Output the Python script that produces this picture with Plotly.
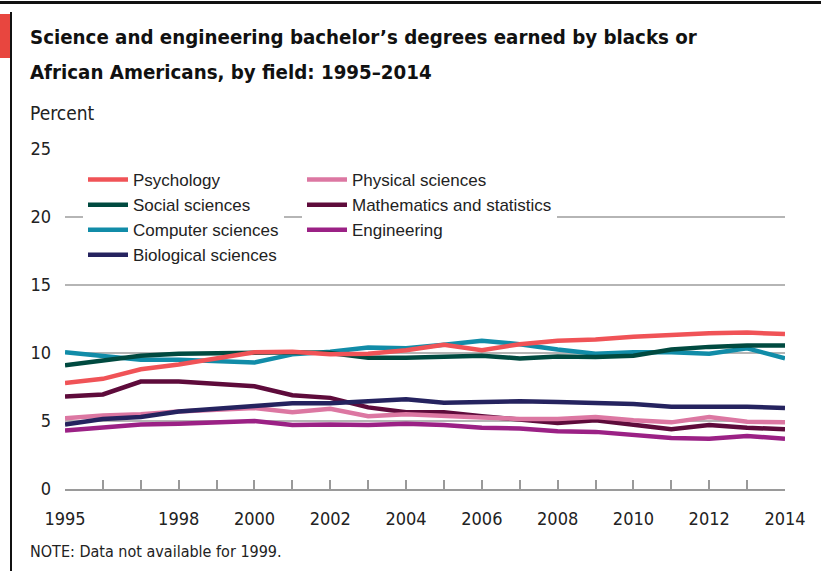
import plotly.graph_objects as go

years = [1995, 1996, 1997, 1998, 2000, 2001, 2002, 2003, 2004, 2005,
         2006, 2007, 2008, 2009, 2010, 2011, 2012, 2013, 2014]

psychology = [7.8, 8.1, 8.8, 9.15, 10.05, 10.1, 9.9, 9.95, 10.2, 10.6,
              10.2, 10.65, 10.9, 11.0, 11.2, 11.35, 11.45, 11.5, 11.4]
social = [9.1, 9.45, 9.8, 9.95, 10.05, 10.05, 10.0, 9.65, 9.65, 9.75,
          9.8, 9.6, 9.75, 9.7, 9.8, 10.25, 10.45, 10.55, 10.55]
computer = [10.05, 9.8, 9.5, 9.5, 9.3, 9.9, 10.1, 10.4, 10.35, 10.6,
            10.9, 10.65, 10.25, 9.95, 10.05, 10.05, 9.95, 10.35, 9.6]
biological = [4.75, 5.15, 5.3, 5.7, 6.1, 6.3, 6.3, 6.45, 6.6, 6.35,
              6.4, 6.45, 6.4, 6.35, 6.25, 6.05, 6.05, 6.05, 5.95]
physical = [5.2, 5.4, 5.5, 5.7, 5.95, 5.65, 5.9, 5.35, 5.5, 5.35,
            5.25, 5.15, 5.15, 5.3, 5.05, 4.9, 5.3, 4.95, 4.9]
mathematics = [6.8, 6.95, 7.9, 7.9, 7.55, 6.9, 6.7, 6.0, 5.65, 5.65,
               5.35, 5.1, 4.85, 5.05, 4.75, 4.4, 4.7, 4.5, 4.4]
engineering = [4.3, 4.55, 4.75, 4.8, 5.0, 4.7, 4.75, 4.7, 4.8, 4.7,
               4.5, 4.45, 4.25, 4.2, 3.95, 3.75, 3.7, 3.9, 3.7]

tick_years = list(range(1995, 2015))
labeled_years = [1995, 1998, 2000, 2002, 2004, 2006, 2008, 2010, 2012, 2014]
y_ticks = [0, 5, 10, 15, 20, 25]

title_lines = ["Science and engineering bachelor\u2019s degrees earned by blacks or",
               "African Americans, by field: 1995\u20132014"]
y_label = "Percent"
note = "NOTE: Data not available for 1999."

W, H = 821, 571
L, R, T, B = 65, 785, 149, 489


def px(x):
    return (x - L) / (R - L)


def py(y):
    return (B - y) / (B - T)


NARROW = "DejaVu Sans Condensed, sans-serif"
REG = "Liberation Sans, Arial, sans-serif"

series = [
    ("Engineering", engineering, "#9b2185", "legend2", 3),
    ("Mathematics and statistics", mathematics, "#5e0b3b", "legend2", 2),
    ("Physical sciences", physical, "#dc77a2", "legend2", 1),
    ("Biological sciences", biological, "#25235f", "legend", 4),
    ("Computer sciences", computer, "#118ca8", "legend", 3),
    ("Social sciences", social, "#004a40", "legend", 2),
    ("Psychology", psychology, "#f05357", "legend", 1),
]

fig = go.Figure()
for name, vals, color, leg, rank in series:
    fig.add_trace(go.Scatter(
        x=years, y=vals, name=name, mode="lines",
        line=dict(color=color, width=4.5),
        legend=leg, legendrank=rank,
    ))

fig.update_layout(
    width=W, height=H,
    margin=dict(l=L, r=W - R, t=T, b=H - B, pad=0),
    paper_bgcolor="white", plot_bgcolor="white",
    font=dict(family=REG, color="#222"),
    showlegend=True,
    xaxis=dict(
        range=[1995, 2014], tickvals=tick_years,
        ticktext=[str(y) if y in labeled_years else "" for y in tick_years],
        ticks="inside", ticklen=9, tickwidth=1.5, tickcolor="#9a9a9a",
        showline=True, linecolor="#9a9a9a", linewidth=2,
        showgrid=False, zeroline=False,
        tickfont=dict(family=NARROW, size=18, color="#222"),
        ticklabelstandoff=12,
    ),
    yaxis=dict(
        range=[0, 25], tickvals=y_ticks,
        showgrid=True, gridcolor="#b5b5b5", gridwidth=1.5,
        zeroline=False, showline=False, ticks="",
        tickfont=dict(family=NARROW, size=18, color="#222"),
        ticklabelstandoff=13,
    ),
    legend=dict(
        x=px(83), y=py(162), xanchor="left", yanchor="top",
        bgcolor="white", font=dict(family=REG, size=17, color="#222"),
        tracegroupgap=0, itemwidth=40, traceorder="normal",
    ),
    legend2=dict(
        x=px(302), y=py(162), xanchor="left", yanchor="top",
        bgcolor="white", font=dict(family=REG, size=17, color="#222"),
        tracegroupgap=0, itemwidth=40, traceorder="normal",
    ),
)

annotations = [
    dict(text="<b>" + title_lines[0] + "</b>", x=px(28), y=py(37)),
    dict(text="<b>" + title_lines[1] + "</b>", x=px(28), y=py(72)),
]
for a in annotations:
    a.update(xref="paper", yref="paper", xanchor="left", yanchor="middle",
             showarrow=False, font=dict(family=NARROW, size=20.3, color="#111"))
    fig.add_annotation(**a)

fig.add_annotation(text=y_label, x=px(28), y=py(113), xref="paper", yref="paper",
                   xanchor="left", yanchor="middle", showarrow=False,
                   font=dict(family=NARROW, size=19, color="#222"))
fig.add_annotation(text=note, x=px(28), y=py(551), xref="paper", yref="paper",
                   xanchor="left", yanchor="middle", showarrow=False,
                   font=dict(family=NARROW, size=16, color="#222"))

# frame decorations
fig.add_shape(type="line", xref="paper", yref="paper", x0=px(0), x1=px(821),
              y0=py(2.5), y1=py(2.5), line=dict(color="#111", width=3))
fig.add_shape(type="line", xref="paper", yref="paper", x0=px(11), x1=px(11),
              y0=py(12), y1=py(571), line=dict(color="#111", width=2))
fig.add_shape(type="rect", xref="paper", yref="paper", x0=px(0), x1=px(10),
              y0=py(14), y1=py(58), line=dict(width=0), fillcolor="#e8463f")

fig.write_html("out.html", config={"displayModeBar": False},
               post_script="document.body.style.margin='0';")
